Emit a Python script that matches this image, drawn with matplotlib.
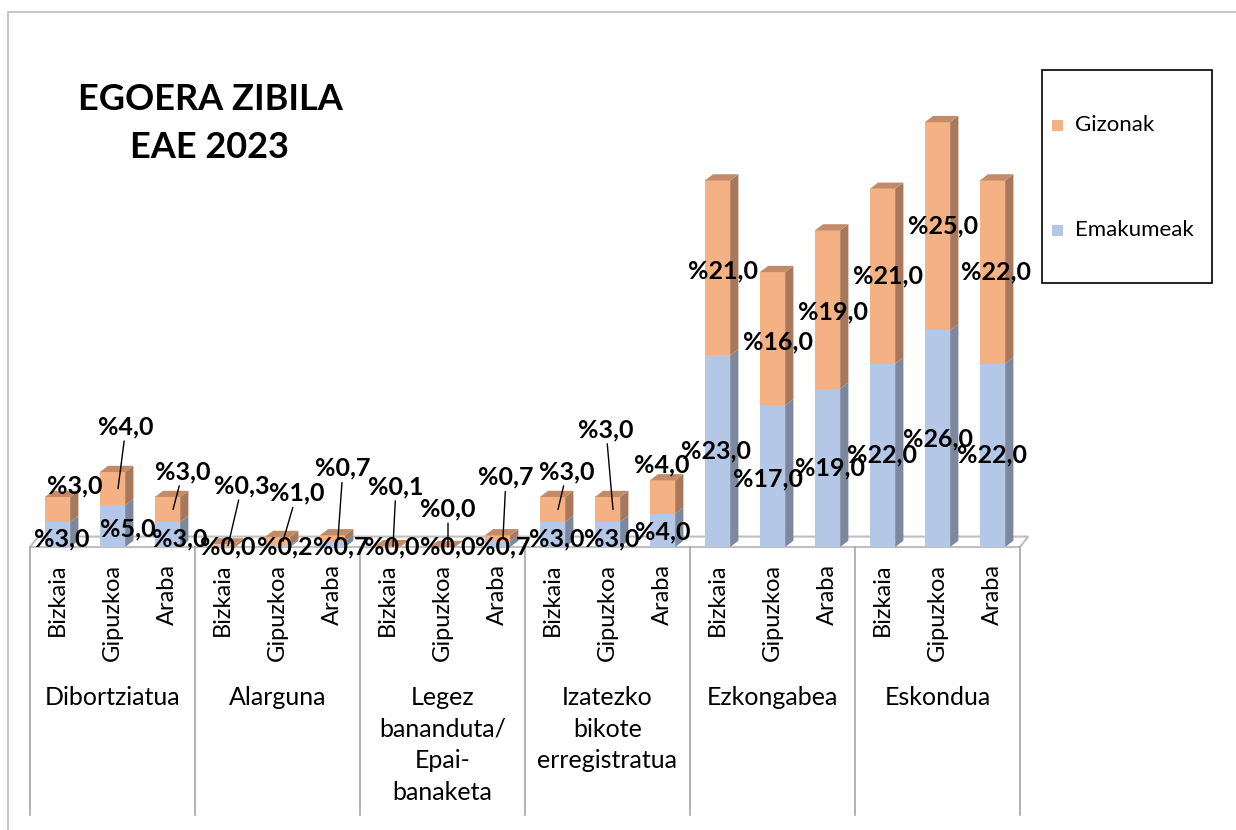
import matplotlib.pyplot as plt
from matplotlib.patches import Polygon, Rectangle

plt.rcParams['font.family'] = ['Lato', 'DejaVu Sans']

# data
groups = ["Dibortziatua", "Alarguna", "Legez\nbananduta/\nEpai-\nbanaketa",
          "Izatezko\nbikote\nerregistratua", "Ezkongabea", "Eskondua"]
provinces = ["Bizkaia", "Gipuzkoa", "Araba"]
emakumeak = [3.0, 5.0, 3.0, 0.0, 0.2, 0.7, 0.0, 0.0, 0.7,
             3.0, 3.0, 4.0, 23.0, 17.0, 19.0, 22.0, 26.0, 22.0]
gizonak = [3.0, 4.0, 3.0, 0.3, 1.0, 0.7, 0.1, 0.0, 0.7,
           3.0, 3.0, 4.0, 21.0, 16.0, 19.0, 21.0, 25.0, 22.0]

# label nudges in pixels (Excel's placement for the small bars)
emak_off = [(4, -4), (15, -3), (12, -4), (5, 0), (7, -1), (8, -3), (4, 0), (5, 0), (5, -3),
            (4, -4), (4, -4), (0, -2), (-2, 0), (-4, -3), (2, 0), (0, 0), (0, 0), (0, 0)]
giz_off = [(12, 24), (8, 62), (10, 38), (14, 60), (14, 48), (5, 70), (3, 60), (0, 38), (3, 61),
           (9, 38), (-7, 80), (-6, 32), (0, -3), (0, -3), (0, -2), (0, 0), (0, 0), (-2, 0)]
leader = [False, True, True, True, True, True, True, True, True,
          True, True, False, False, False, False, False, False, False]

orange, orange_side, orange_top = "#F4B183", "#A9785A", "#C48B69"
blue, blue_side = "#B4C7E7", "#7B889D"

W, H = 1236, 830
fig = plt.figure(figsize=(W / 100, H / 100), dpi=100)
base_px, ppu, ymax = 547, 8.33, 56
ax = fig.add_axes([30 / W, (H - base_px) / H, 990 / W, ymax * ppu / H])
n = len(emakumeak)
x = list(range(n))
bw = 0.46
dx, dy = 0.15, 0.75

ax.set_xlim(-0.5, n - 0.5)
ax.set_ylim(0, ymax)

# floor
ax.add_patch(Polygon([(-0.5, 0), (-0.5 + dx, 1.25), (n - 0.5 + dx, 1.25), (n - 0.5, 0)],
                     closed=True, facecolor="white", edgecolor="#BFBFBF", lw=1.5,
                     clip_on=False, zorder=1))

ax.bar(x, emakumeak, width=bw, color=blue, zorder=3, label="Emakumeak")
ax.bar(x, gizonak, width=bw, bottom=emakumeak, color=orange, zorder=3, label="Gizonak")

for xi, b, g in zip(x, emakumeak, gizonak):
    r = xi + bw / 2
    ax.add_patch(Polygon([(r, 0), (r + dx, dy), (r + dx, b + dy), (r, b)],
                         facecolor=blue_side, lw=0, zorder=2.9))
    ax.add_patch(Polygon([(r, b), (r + dx, b + dy), (r + dx, b + g + dy), (r, b + g)],
                         facecolor=orange_side, lw=0, zorder=2.9))
    t = b + g
    ax.add_patch(Polygon([(xi - bw / 2, t), (xi - bw / 2 + dx, t + dy), (r + dx, t + dy), (r, t)],
                         facecolor=orange_top, lw=0, zorder=3.1))

lab_kw = dict(fontsize=18, fontweight="bold", ha="center", va="center",
              textcoords="offset pixels", zorder=5, annotation_clip=False)
for i in range(n):
    b, g = emakumeak[i], gizonak[i]
    ax.annotate("%" + f"{b:.1f}".replace(".", ","), xy=(x[i], b / 2),
                xytext=emak_off[i], **lab_kw)
    arrow = dict(arrowstyle="-", color="black", lw=1, shrinkA=0, shrinkB=0) if leader[i] else None
    ax.annotate("%" + f"{g:.1f}".replace(".", ","), xy=(x[i] + 0.1, b + g / 2),
                xytext=giz_off[i], arrowprops=arrow, **lab_kw)

for s in ax.spines.values():
    s.set_visible(False)
ax.set_yticks([])
ax.set_xticks(x)
ax.set_xticklabels(provinces * len(groups), rotation=90, fontsize=17, va="top")
ax.tick_params(axis="x", length=0, pad=12)

# category table below the axis
bottom_frac = (base_px - 815) / (ymax * ppu)
for k in range(len(groups) + 1):
    ax.plot([k * 3 - 0.5] * 2, [0, bottom_frac], transform=ax.get_xaxis_transform(),
            color="#A6A6A6", lw=1.2, clip_on=False)
label_frac = (base_px - 686) / (ymax * ppu)
for k, gname in enumerate(groups):
    ax.text(k * 3 + 1, label_frac, gname, transform=ax.get_xaxis_transform(),
            ha="center", va="top", fontsize=18, linespacing=1.45)

# title
fig.text(210 / W, 1 - 100 / H, "EGOERA ZIBILA", fontsize=26, fontweight="bold",
         ha="center", va="center")
fig.text(210 / W, 1 - 148 / H, "EAE 2023", fontsize=26, fontweight="bold",
         ha="center", va="center")

# legend
fig.patches.append(Rectangle((1042 / W, 1 - 283 / H), 170 / W, 213 / H, transform=fig.transFigure,
                             facecolor="white", edgecolor="black", lw=1.2))
for lbl, col, ypx in [("Gizonak", orange, 125), ("Emakumeak", blue, 230)]:
    fig.patches.append(Rectangle((1052 / W, 1 - (ypx + 6) / H), 11 / W, 11 / H,
                                 transform=fig.transFigure, facecolor=col, lw=0))
    fig.text(1075 / W, 1 - ypx / H, lbl, fontsize=16, ha="left", va="center")

# chart area border
fig.patches.append(Rectangle((8 / W, -0.05), 1.1, 1 - 12 / H + 0.05, transform=fig.transFigure,
                             facecolor="none", edgecolor="#BFBFBF", lw=1.2))

fig.savefig("out.png", dpi=100)
